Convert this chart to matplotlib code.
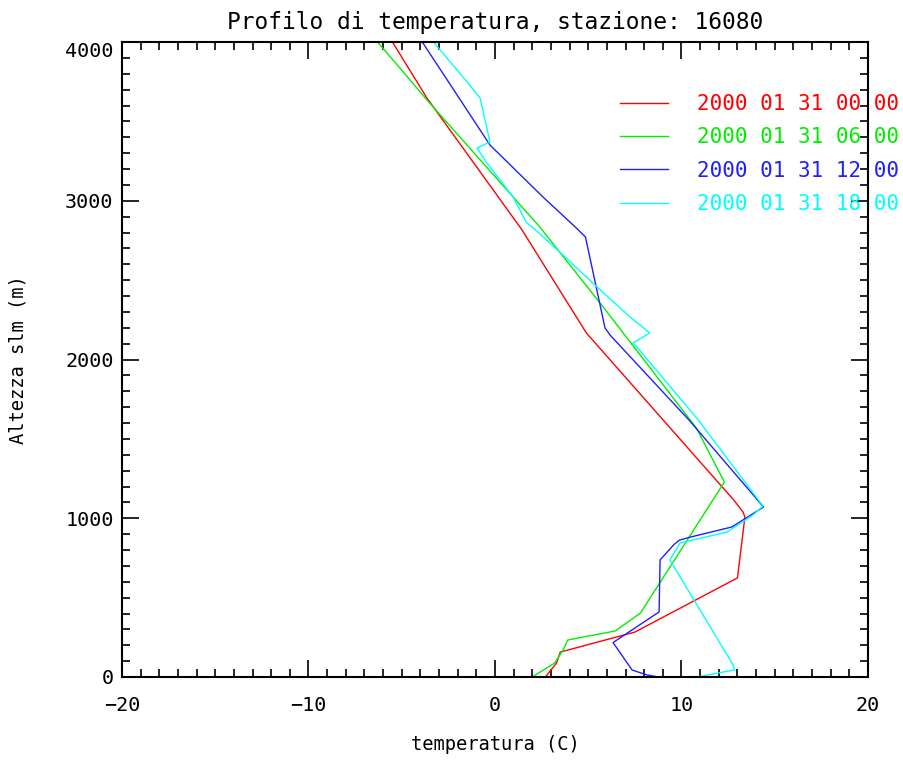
import matplotlib
matplotlib.use("Agg")
import matplotlib.pyplot as plt
from matplotlib.ticker import MultipleLocator

# ---- data (temperature in C, height in m) ----
labels = ["2000 01 31 00 00", "2000 01 31 06 00", "2000 01 31 12 00", "2000 01 31 18 00"]
colors = ["#ff0000", "#00ee00", "#2020ff", "#00ffff"]

t_00 = [2.7, 3.3, 3.5, 7.5, 13.0, 13.4, 13.3, 12.8, 4.9, 1.45, -3.65, -5.5]
h_00 = [0, 88, 157, 283, 624, 1008, 1039, 1115, 2167, 2816, 3647, 4000]

t_06 = [2.0, 3.2, 3.65, 3.9, 6.45, 7.8, 12.3, 10.8, 5.8, 2.4, -3.65, -5.1, -6.3]
h_06 = [0, 88, 170, 233, 290, 403, 1228, 1568, 2331, 2835, 3635, 3836, 4000]

t_12 = [8.75, 8.15, 7.35, 6.33, 8.8, 8.85, 9.6, 9.9, 10.5, 12.7, 14.4, 10.4, 6.2, 5.9,
        4.85, 4.3, 2.57, -0.27, -3.9]
h_12 = [0, 13, 44, 217, 410, 737, 835, 863, 882, 945, 1071, 1619, 2150, 2198,
        2772, 2835, 3024, 3351, 4000]

t_18 = [10.85, 12.85, 12.75, 9.38, 9.92, 12.44, 13.83, 14.37, 10.9, 7.6, 7.4, 8.3,
        7.24, 5.47, 3.65, 2.0, 1.7, 0.97, -0.43, -0.97, -0.27, -0.8, -1.45, -3.3]
h_18 = [0, 45, 80, 737, 844, 913, 1020, 1077, 1619, 2080, 2104, 2167,
        2268, 2457, 2658, 2835, 2860, 3024, 3238, 3332, 3370, 3647, 3742, 4000]

series_t = [t_00, t_06, t_12, t_18]
series_h = [h_00, h_06, h_12, h_18]

x_ticks = [-20, -10, 0, 10, 20]
y_ticks = [0, 1000, 2000, 3000, 4000]

title = "Profilo di temperatura, stazione: 16080"
xlabel = "temperatura (C)"
ylabel = "Altezza slm (m)"

# ---- figure ----
mono = "DejaVu Sans Mono"
fig = plt.figure(figsize=(9.04, 7.6), dpi=100)
ax = fig.add_axes([122 / 904, 83 / 760, 746 / 904, 635 / 760])

lines = []
for t, h, c, lab in zip(series_t, series_h, colors, labels):
    ln, = ax.plot(t, h, color=c, lw=1.0, label=lab)
    lines.append(ln)

ax.set_xlim(-20, 20)
ax.set_ylim(0, 4000)
ax.set_xticks(x_ticks)
ax.set_yticks(y_ticks)
ax.xaxis.set_minor_locator(MultipleLocator(1))
ax.yaxis.set_minor_locator(MultipleLocator(100))
ax.set_xticklabels([("\u2212" + str(-v)) if v < 0 else str(v) for v in x_ticks],
                   family=mono, fontsize=14.5)
ax.set_yticklabels([str(v) for v in y_ticks], family=mono, fontsize=14.5)
ax.tick_params(which="both", direction="in", top=True, right=True, color="black",
               width=1.2)
ax.tick_params(which="major", length=12)
ax.tick_params(which="minor", length=6)
ax.tick_params(axis="x", which="major", pad=14)
ax.tick_params(axis="y", which="major", pad=6)
yl = ax.get_yticklabels()
yl[-1].set_va("top")
for s in ax.spines.values():
    s.set_linewidth(1.5)
    s.set_color("black")

ax.set_title(title, family=mono, fontsize=16.5, pad=9)
ax.set_xlabel(xlabel, family=mono, fontsize=13.5, va="center")
ax.set_ylabel(ylabel, family=mono, fontsize=13.5, va="center")
ax.xaxis.set_label_coords(0.5, -0.107)
ax.yaxis.set_label_coords(-0.139, 0.5)

leg = ax.legend(handles=lines, labels=labels, loc="upper left",
                bbox_to_anchor=(620 / 904, 1 - 94 / 760), bbox_transform=fig.transFigure,
                frameon=False, handlelength=2.3, handletextpad=1.4, labelspacing=0.64,
                borderaxespad=0, borderpad=0, labelcolor="linecolor",
                prop={"family": mono, "size": 15})
leg.set_clip_on(False)

fig.savefig("out.png", dpi=100)
